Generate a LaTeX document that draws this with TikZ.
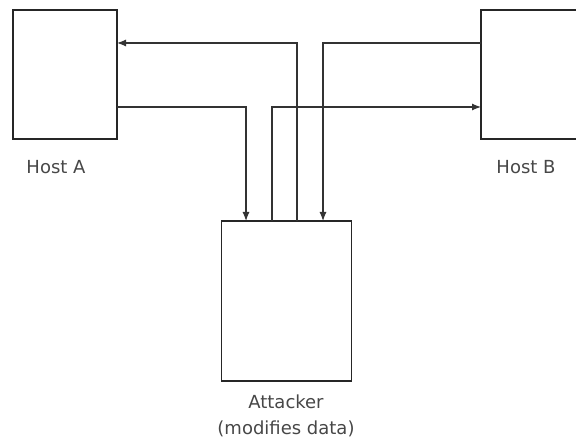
\documentclass[tikz,border=0pt]{standalone}
\usepackage{fontspec}
\setmainfont{DejaVu Sans}
\usetikzlibrary{arrows.meta}
\begin{document}
\begin{tikzpicture}[x=1pt,y=-1pt,
  box/.style={draw=black!85,line width=1.4pt,fill=white,inner sep=0pt,outer sep=0pt},
  lbl/.style={text=black!72,font=\fontsize{18}{21}\selectfont,inner sep=0pt},
  arr/.style={draw=black!80,line width=1.2pt,-{Latex[length=9pt,width=7pt]}}]
\useasboundingbox (0,0) rectangle (576,441);
\node[box,minimum width=104pt,minimum height=129pt] (hostA) at (65,74.5) {};
\node[box,minimum width=104pt,minimum height=129pt] (hostB) at (533,74.5) {};
\node[box,minimum width=130pt,minimum height=160pt] (attacker) at (286.5,301) {};
\coordinate (yTop) at (0,43);
\coordinate (yLow) at (0,107);
\draw[arr] ([xshift=75.5pt]attacker.north west) |- (hostA.east |- yTop);
\draw[arr] (hostB.west |- yTop) -| ([xshift=101.5pt]attacker.north west);
\draw[arr] (hostA.east |- yLow) -| ([xshift=24.5pt]attacker.north west);
\draw[arr] ([xshift=50.5pt]attacker.north west) |- (hostB.west |- yLow);
\node[lbl] (la) at (56,167) {Host A};
\node[lbl] (lb) at (526,167) {Host B};
\node[lbl] (lc) at (286,402) {Attacker};
\node[lbl] (ld) at (286,429) {(modifies data)};
\end{tikzpicture}
\end{document}
